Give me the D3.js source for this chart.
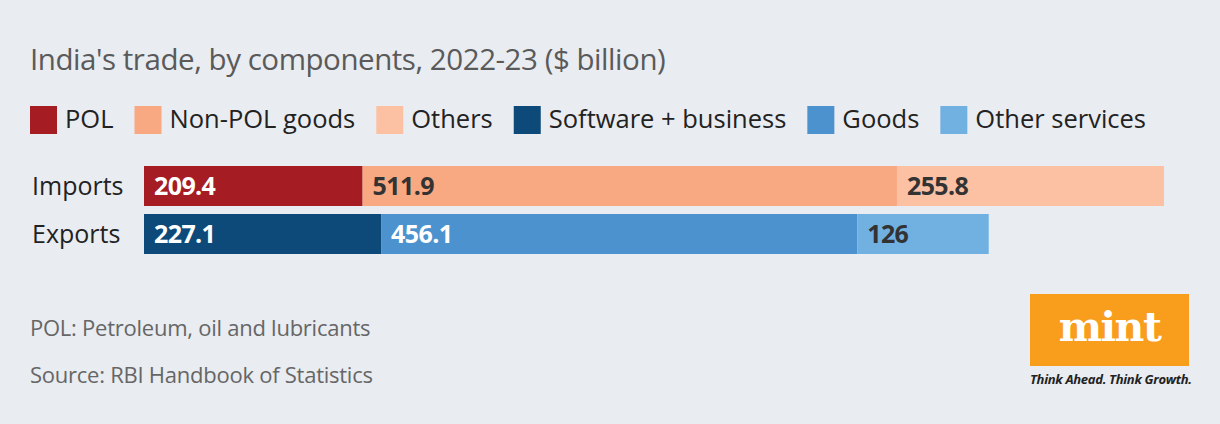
<!DOCTYPE html>
<html>
<head>
<meta charset="utf-8">
<script src="https://cdn.jsdelivr.net/npm/d3@7"></script>
<style>
  body { margin: 0; background: #e9ecf1; }
  svg { display: block; }
</style>
</head>
<body>
<div id="chart"></div>
<script>
// data
const categories = ["Imports", "Exports"];
const importParts = ["POL", "Non-POL goods", "Others"];
const importValues = [209.4, 511.9, 255.8];
const exportParts = ["Software + business", "Goods", "Other services"];
const exportValues = [227.1, 456.1, 126];
const legendItems = ["POL", "Non-POL goods", "Others", "Software + business", "Goods", "Other services"];

const width = 1220, height = 424;
const font = "'Open Sans', sans-serif";

const color = d3.scaleOrdinal()
    .domain(legendItems)
    .range(["#a51c22", "#f8a982", "#fbc1a2", "#0d4a7a", "#4b92cf", "#70b1e2"]);
// label colour on each segment
const labelColor = d3.scaleOrdinal()
    .domain(legendItems)
    .range(["#fff", "#333", "#333", "#fff", "#fff", "#333"]);

const svg = d3.select("#chart").append("svg")
    .attr("width", width)
    .attr("height", height);

svg.append("rect").attr("width", width).attr("height", height).attr("fill", "#e9ecf1");

// title
svg.append("text")
    .attr("x", 30).attr("y", 70)
    .attr("font-family", font).attr("font-size", 29.5)
    .attr("letter-spacing", -0.45)
    .attr("fill", "#5a5a5a")
    .text("India's trade, by components, 2022-23 ($ billion)");

// legend
const legend = svg.append("g").selectAll("g")
    .data(legendItems)
    .enter().append("g");
legend.append("rect")
    .attr("width", 27).attr("height", 28)
    .attr("fill", d => color(d));
legend.append("text")
    .attr("x", 35).attr("y", 22.3)
    .attr("font-family", font).attr("font-size", 25.5)
    .attr("fill", "#222")
    .text(d => d);

// items follow each other
let cur = 30;
legend.each(function (d, i) {
    const g = d3.select(this);
    g.attr("transform", "translate(" + cur + ",106)");
    const w = g.select("text").node().getComputedTextLength();
    cur += 35 + w + 21;
});

// bars
const x = d3.scaleLinear()
    .domain([0, d3.sum(importValues)])
    .range([144, 1164]);
const y = d3.scaleBand()
    .domain(categories)
    .range([166, 254])
    .paddingInner(1 / 6);

const rows = [
    { name: "Imports", parts: importParts, values: importValues },
    { name: "Exports", parts: exportParts, values: exportValues }
];

rows.forEach(row => {
    let acc = 0;
    const segs = row.values.map((v, i) => {
        const s = { key: row.parts[i], v: v, x0: acc, x1: acc + v };
        acc += v;
        return s;
    });

    svg.append("text")
        .attr("x", 32)
        .attr("y", y(row.name) + y.bandwidth() / 2 + 8.5)
        .attr("font-family", font).attr("font-size", 25)
        .attr("fill", "#222")
        .text(row.name);

    const g = svg.append("g");
    g.selectAll("rect")
        .data(segs)
        .enter().append("rect")
        .attr("x", d => x(d.x0))
        .attr("width", d => x(d.x1) - x(d.x0))
        .attr("y", y(row.name))
        .attr("height", y.bandwidth())
        .attr("fill", d => color(d.key));
    g.selectAll("text")
        .data(segs)
        .enter().append("text")
        .attr("x", d => x(d.x0) + 10)
        .attr("y", y(row.name) + y.bandwidth() / 2 + 8.5)
        .attr("font-family", font).attr("font-size", 25)
        .attr("font-weight", 700)
        .attr("letter-spacing", -0.6)
        .attr("fill", d => labelColor(d.key))
        .text(d => d.v);
});

// footnotes
svg.append("text")
    .attr("x", 30).attr("y", 336)
    .attr("font-family", font).attr("font-size", 22)
    .attr("letter-spacing", -0.25)
    .attr("fill", "#666")
    .text("POL: Petroleum, oil and lubricants");
svg.append("text")
    .attr("x", 30).attr("y", 383)
    .attr("font-family", font).attr("font-size", 22)
    .attr("letter-spacing", -0.25)
    .attr("fill", "#666")
    .text("Source: RBI Handbook of Statistics");

// mint logo
const logo = svg.append("g").attr("transform", "translate(1030,294)");
logo.append("rect").attr("width", 159).attr("height", 72).attr("fill", "#f99d1c");
logo.append("text")
    .attr("x", 79.5).attr("y", 47)
    .attr("text-anchor", "middle")
    .attr("font-family", "'DejaVu Serif', serif").attr("font-weight", 700)
    .attr("font-size", 41)
    .attr("letter-spacing", -1.5)
    .attr("fill", "#fff")
    .text("mint");
logo.append("text")
    .attr("x", 0).attr("y", 90)
    .attr("font-family", font).attr("font-weight", 700).attr("font-style", "italic")
    .attr("font-size", 13)
    .attr("letter-spacing", -0.3)
    .attr("fill", "#222")
    .text("Think Ahead. Think Growth.");
</script>
</body>
</html>
